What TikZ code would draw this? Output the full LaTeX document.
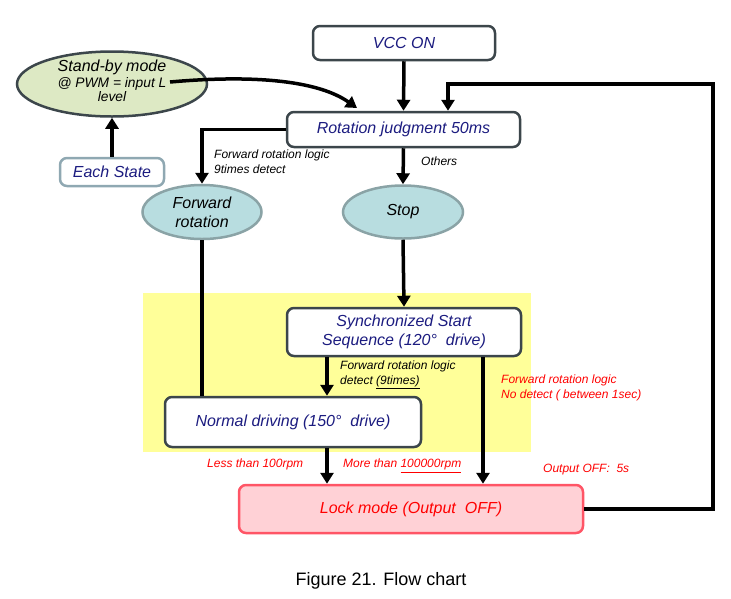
\documentclass[tikz,border=0pt]{standalone}
\usepackage{fontspec}
\setmainfont{Liberation Sans}
\usepackage{xcolor}
\usepackage{tikz}
\usetikzlibrary{shapes.geometric,arrows.meta}

\definecolor{navytxt}{HTML}{1C1C80}
\definecolor{boxline}{HTML}{3C464B}
\definecolor{sbfill}{HTML}{DDE9C4}
\definecolor{tealfill}{HTML}{B8DDE0}
\definecolor{tealline}{HTML}{8AA3A6}
\definecolor{eachline}{HTML}{8FA8B2}
\definecolor{yellowbg}{HTML}{FFFF99}
\definecolor{lockfill}{HTML}{FFD1D6}
\definecolor{lockline}{HTML}{FF5566}
\definecolor{redtxt}{HTML}{FF0000}

\begin{document}
\begin{tikzpicture}[x=1pt,y=-1pt]
\tikzstyle{every node}+=[inner sep=0pt]
\tikzstyle{statebox}=[draw=boxline,line width=2.5pt,fill=white,rounded corners=7pt,text=navytxt,align=center,font=\fontsize{16}{19}\selectfont\itshape]
\tikzstyle{oval}=[ellipse,draw=tealline,line width=2.5pt,fill=tealfill,align=center,font=\fontsize{16}{19}\selectfont\itshape]
\tikzstyle{flow}=[line width=3.5pt,-{Triangle[length=11pt,width=13pt]}]
\tikzstyle{note}=[anchor=north west,align=left,font=\fontsize{12}{14.5}\selectfont\itshape]
\tikzstyle{rednote}=[note,text=redtxt]
\useasboundingbox (0,0) rectangle (731,598);
\fill [yellowbg] (143,293) rectangle (531,452);
\node [statebox,minimum width=182pt,minimum height=34pt] (vcc) at (404,43) {VCC ON};
\node [statebox,minimum width=233pt,minimum height=35pt] (rot) at (403.5,129.5) {Rotation judgment 50ms};
\node [ellipse,draw=boxline,line width=2.5pt,fill=sbfill,minimum width=190pt,minimum height=65pt] (standby) at (112,84) {};
\node [align=center] (sbtext) at (112,80.5) {{\fontsize{16}{18}\selectfont\itshape Stand-by mode}\\[2pt]{\fontsize{13.8}{17}\selectfont\itshape @ PWM = input L}\\{\fontsize{13.8}{17}\selectfont\itshape level}};
\node [statebox,draw=eachline,minimum width=104pt,minimum height=28pt] (each) at (112,172) {Each State};
\node [oval,minimum width=119pt,minimum height=54pt] (fwd) at (202,212) {Forward\\rotation};
\node [oval,minimum width=120pt,minimum height=53pt] (stop) at (403,212) {Stop};
\node [statebox,minimum width=234pt,minimum height=48pt] (sync) at (404,332) {Synchronized Start\\Sequence (120° \ drive)};
\node [statebox,minimum width=256pt,minimum height=50pt] (normal) at (293,422) {Normal driving (150° \ drive)};
\node [statebox,draw=lockline,fill=lockfill,text=redtxt,minimum width=344pt,minimum height=48pt] (lock) at (411,509) {Lock mode (Output\ \ OFF)};
\coordinate (xa) at (327,0);
\coordinate (xb) at (483,0);
\coordinate (xc) at (448,0);
\coordinate (fb) at (713,84);
\coordinate (sbout) at (170,82);
\coordinate (rotin) at (357,108);
\draw [flow] (vcc.south) -- (rot.north);
\draw [flow] (sbout) .. controls (260,74) and (320,82) .. (rotin);
\draw [flow] (each.north) -- (standby.south);
\draw [flow] (rot.west) -| (fwd.north);
\draw [flow] (rot.south) -- (stop.north);
\draw [flow] (stop.south) -- (sync.north);
\draw [line width=3.5pt] (fwd.south) -- (fwd.south |- normal.north);
\draw [flow] (xa |- sync.south) -- (xa |- normal.north);
\draw [flow] (xa |- normal.south) -- (xa |- lock.north);
\draw [flow] (xb |- sync.south) -- (xb |- lock.north);
\draw [flow] (lock.east) -| (fb) -| (xc |- rot.north);
\node [note] (l1) at (214,150) {Forward rotation logic\\9times detect};
\node [note] (l2) at (421,157) {Others};
\node [note] (l3) at (340,361) {Forward rotation logic\\detect \underline{(9times)}};
\node [rednote] (l4) at (501,375) {Forward rotation logic\\No detect ( between 1sec)};
\node [rednote] (l5) at (207,459) {Less than 100rpm};
\node [rednote] (l6) at (343,459) {More than \underline{100000rpm}};
\node [rednote] (l7) at (543,464) {Output OFF:\ \ 5s};
\node [font=\fontsize{18}{21}\selectfont] (cap) at (381,581) {Figure 21. Flow chart};
\end{tikzpicture}
\end{document}
